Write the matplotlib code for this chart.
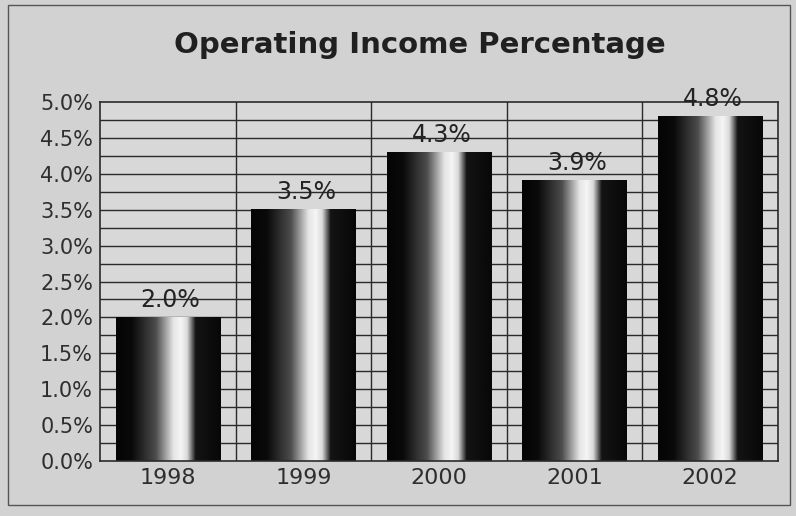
import numpy as np
import matplotlib
matplotlib.use("Agg")
import matplotlib.pyplot as plt
from matplotlib.patches import Rectangle
from matplotlib.ticker import MultipleLocator, FuncFormatter

years = ["1998", "1999", "2000", "2001", "2002"]
income_pct = [2.0, 3.5, 4.3, 3.9, 4.8]
value_labels = ["2.0%", "3.5%", "4.3%", "3.9%", "4.8%"]
title = "Operating Income Percentage"

plt.rcParams["font.family"] = ["DejaVu Sans"]

fig = plt.figure(figsize=(7.96, 5.16), dpi=100)
fig.patch.set_facecolor("#d2d2d2")
ax = fig.add_axes([0.1256, 0.1066, 0.8515, 0.6957])
ax.set_facecolor("#d8d8d8")

# outer frame of the chart area
fig.patches.append(Rectangle((0.010, 0.022), 0.982, 0.968, transform=fig.transFigure,
                             fill=False, edgecolor="#555555", linewidth=1.0))

n = len(years)

# grid: horizontal every 0.25 %, vertical at category boundaries
for y in np.arange(0.25, 5.0, 0.25):
    ax.axhline(y, color="#2a2a2a", linewidth=1.0, zorder=1)
for x in np.arange(0.5, n - 0.5, 1.0):
    ax.axvline(x, color="#2a2a2a", linewidth=1.0, zorder=1)

# cylinder-like shading across each bar: dark edges, bright band right of centre
u = np.linspace(0, 1, 200)
shade = np.interp(u, [0.0, 0.15, 0.38, 0.55, 0.62, 0.68, 0.76, 1.0],
                     [0.02, 0.04, 0.30, 0.90, 0.96, 0.85, 0.08, 0.03])
shade_img = np.tile(shade, (2, 1))

bar_w = 0.77
bars = ax.bar(range(n), income_pct, width=bar_w, color="none", edgecolor="none", zorder=2)
for rect, lab in zip(bars, value_labels):
    x0, h = rect.get_x(), rect.get_height()
    ax.imshow(shade_img, cmap="gray", vmin=0, vmax=1, aspect="auto",
              extent=(x0, x0 + rect.get_width(), 0, h), zorder=2, interpolation="bilinear")
    ax.annotate(lab, (x0 + rect.get_width() / 2, h), xytext=(2, 4), textcoords="offset points",
                ha="center", va="bottom", fontsize=17, color="#232323", zorder=4)

ax.set_xlim(-0.5, n - 0.5)
ax.set_ylim(0, 5.0)
ax.set_xticks(range(n))
ax.set_xticklabels(years, fontsize=16)
ax.yaxis.set_major_locator(MultipleLocator(0.5))
ax.yaxis.set_major_formatter(FuncFormatter(lambda v, p: f"{v:.1f}%"))
ax.tick_params(axis="both", length=0, labelcolor="#2e2e2e")
ax.tick_params(axis="y", pad=5, labelsize=15)
ax.tick_params(axis="x", pad=5)
for s in ax.spines.values():
    s.set_color("#2a2a2a")
    s.set_linewidth(1.2)

fig.text(0.527, 0.912, title, ha="center", va="center", fontsize=21,
         fontweight="bold", color="#202020")

fig.savefig("out.png", dpi=100, facecolor=fig.get_facecolor())
